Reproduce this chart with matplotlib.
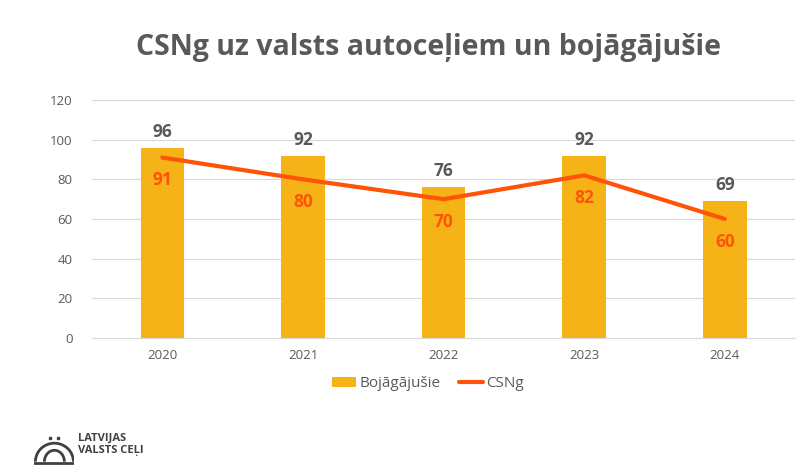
import matplotlib.pyplot as plt
import numpy as np
from matplotlib.patches import Arc

years = ['2020', '2021', '2022', '2023', '2024']
bojagajusie = [96, 92, 76, 92, 69]
csng = [91, 80, 70, 82, 60]

plt.rcParams['font.family'] = ['Open Sans', 'DejaVu Sans']
gray = '#595959'
bar_col = '#F5B317'
line_col = '#FF5307'

fig = plt.figure(figsize=(8, 4.74), dpi=100)
ax = fig.add_axes([0.115, 0.287, 0.879, 0.502])

x = np.arange(len(years))
bars = ax.bar(x, bojagajusie, width=0.31, color=bar_col, label='Bojāgājušie', zorder=2)
line, = ax.plot(x, csng, color=line_col, lw=3, label='CSNg', zorder=3, solid_capstyle='round')

for xi, v in zip(x, bojagajusie):
    ax.annotate(str(v), (xi, v), xytext=(0, 5), textcoords='offset points',
                ha='center', va='bottom', fontsize=12.5, fontweight='bold', color=gray)
for xi, v in zip(x, csng):
    ax.annotate(str(v), (xi, v), xytext=(0, -10), textcoords='offset points',
                ha='center', va='top', fontsize=12.5, fontweight='bold', color=line_col)

ax.set_xlim(-0.5, len(years) - 0.5)
ax.set_ylim(0, 120)
ax.set_yticks(range(0, 121, 20))
ax.set_xticks(x)
ax.set_xticklabels(years)
ax.tick_params(axis='both', length=0, labelsize=9.5, labelcolor=gray)
ax.tick_params(axis='y', pad=14)
ax.tick_params(axis='x', pad=8)
ax.grid(axis='y', color='#D9D9D9', lw=0.8, zorder=0)
ax.set_axisbelow(True)
for s in ['top', 'right', 'left']:
    ax.spines[s].set_visible(False)
ax.spines['bottom'].set_color('#D9D9D9')

fig.legend([bars, line], ['Bojāgājušie', 'CSNg'], loc='center',
           bbox_to_anchor=(0.535, 0.19), ncol=2, frameon=False,
           fontsize=11, labelcolor=gray, handlelength=1.6, handletextpad=0.2,
           columnspacing=1.2)

fig.text(0.535, 0.9, 'CSNg uz valsts autoceļiem un bojāgājušie', ha='center', va='center',
         fontsize=20.5, fontweight='bold', color=gray)

# logo
lax = fig.add_axes([0.043, 0.02, 0.05, 0.06])
lax.set_xlim(0, 1)
lax.set_ylim(0, 1)
lax.axis('off')
lax.add_patch(Arc((0.5, 0.1), 0.95, 1.3, theta1=0, theta2=180, color='#404040', lw=2))
lax.add_patch(Arc((0.5, 0.1), 0.5, 0.8, theta1=0, theta2=180, color='#404040', lw=2))
lax.plot([0.0, 1.0], [0.05, 0.05], color='#404040', lw=2)
lax.plot([0.4, 0.6], [0.95, 0.95], 's', color='#404040', ms=2)
fig.text(0.097, 0.062, 'LATVIJAS\nVALSTS CEĻI', ha='left', va='center', fontsize=8,
         fontweight='bold', color='#404040', linespacing=1.1)

fig.savefig('out.png', dpi=100)
